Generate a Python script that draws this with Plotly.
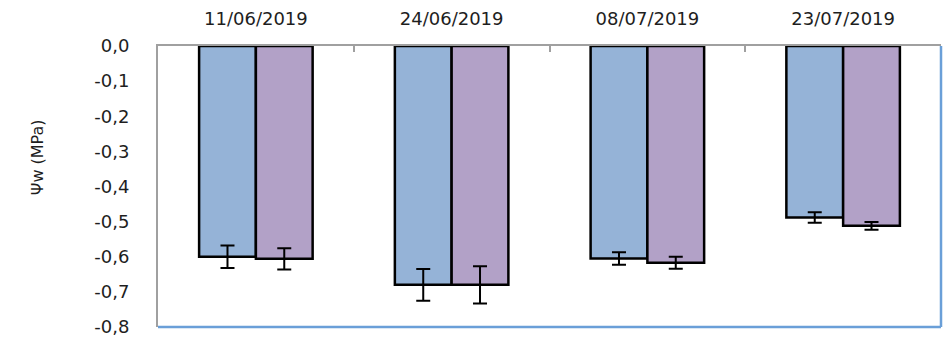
import plotly.graph_objects as go

dates = ["11/06/2019", "24/06/2019", "08/07/2019", "23/07/2019"]
series_a = [-0.600, -0.680, -0.605, -0.488]
series_a_err = [0.032, 0.045, 0.018, 0.015]
series_b = [-0.606, -0.680, -0.617, -0.512]
series_b_err = [0.030, 0.053, 0.017, 0.011]
y_tickvals = [0.0, -0.1, -0.2, -0.3, -0.4, -0.5, -0.6, -0.7, -0.8]
y_ticktext = ["0,0", "-0,1", "-0,2", "-0,3", "-0,4", "-0,5", "-0,6", "-0,7", "-0,8"]

FONT = "DejaVu Sans"
TXT = "#1e1e1e"
fig = go.Figure()
for vals, errs, col in [(series_a, series_a_err, "#95b3d7"), (series_b, series_b_err, "#b2a1c7")]:
    fig.add_trace(go.Bar(
        x=dates, y=vals,
        marker=dict(color=col, line=dict(color="black", width=2.5)),
        error_y=dict(type="data", array=errs, visible=True, color="black", thickness=2, width=7),
        showlegend=False,
    ))

fig.update_layout(
    width=943, height=338,
    margin=dict(l=158, r=2, t=46, b=11),
    paper_bgcolor="white", plot_bgcolor="white",
    barmode="group", bargap=0.42, bargroupgap=0,
    font=dict(family=FONT, size=18, color=TXT),
    shapes=[
        dict(type="line", xref="paper", yref="paper", x0=0, x1=1, y0=0, y1=0,
             line=dict(color="#6a9fd8", width=2.5), layer="below"),
        dict(type="line", xref="paper", yref="paper", x0=1, x1=1, y0=0, y1=1,
             line=dict(color="#6a9fd8", width=2.5), layer="below"),
    ],
    annotations=[dict(text="Ψw (MPa)", xref="paper", yref="paper", x=-0.153, y=0.605,
                      xanchor="center", yanchor="middle", textangle=-90, showarrow=False,
                      font=dict(family=FONT, size=16, color=TXT))],
)
fig.update_xaxes(side="top", type="category", showline=True, linecolor="#a0a0a0", linewidth=2,
                 ticks="inside", tickson="boundaries", ticklen=6, tickcolor="#a0a0a0", tickwidth=2,
                 showgrid=False, ticklabelstandoff=12)
fig.update_yaxes(range=[-0.8, 0], tickvals=y_tickvals, ticktext=y_ticktext,
                 showline=True, linecolor="#a0a0a0", linewidth=2, showgrid=False, zeroline=False,
                 ticks="", ticklabelstandoff=23)

fig.write_html("out.html")
